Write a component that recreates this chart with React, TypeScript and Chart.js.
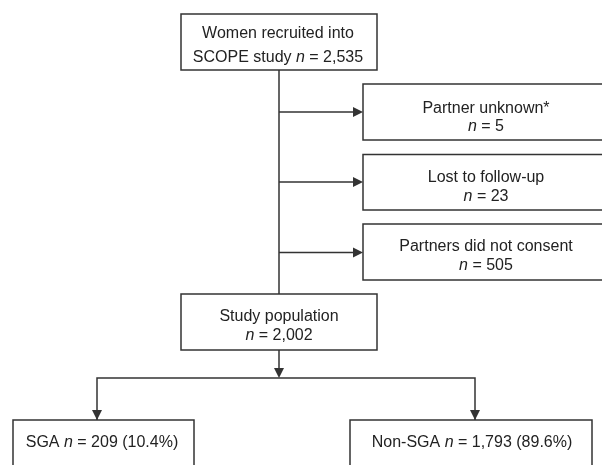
import React, { useEffect, useRef } from "react";
import { Chart, registerables } from "chart.js";

Chart.register(...registerables);

// ---- Data ----
const boxFirstLines = [
  "Women recruited into",
  "Partner unknown*",
  "Lost to follow-up",
  "Partners did not consent",
  "Study population",
  "",
  "",
];
const boxPrefixes = ["SCOPE study ", "", "", "", "", "SGA ", "Non-SGA "];
const boxCounts = [2535, 5, 23, 505, 2002, 209, 1793];
const boxPercents: (number | null)[] = [null, null, null, null, null, 10.4, 89.6];

// ---- Layout (data-space coordinates, x: 0..602, y: 0..465 top-down) ----
const boxLayout = [
  { x0: 181, x1: 377, y0: 14, y1: 70, cx: 278, b1: 38, b2: 61.5 },
  { x0: 363, x1: 612, y0: 84, y1: 140, cx: 486, b1: 112.5, b2: 131 },
  { x0: 363, x1: 612, y0: 154.5, y1: 210, cx: 486, b1: 182, b2: 200.5 },
  { x0: 363, x1: 612, y0: 224, y1: 280, cx: 486, b1: 251, b2: 269.5 },
  { x0: 181, x1: 377, y0: 294, y1: 350, cx: 279, b1: 321, b2: 339.5 },
  { x0: 13, x1: 194, y0: 420, y1: 490, cx: 102, b1: 0, b2: 447 },
  { x0: 350, x1: 592, y0: 420, y1: 490, cx: 472, b1: 0, b2: 447 },
];

const connectorPaths = [
  [{ x: 279, y: 70 }, { x: 279, y: 294 }],
  [{ x: 279, y: 112 }, { x: 356, y: 112 }],
  [{ x: 279, y: 182 }, { x: 356, y: 182 }],
  [{ x: 279, y: 252.5 }, { x: 356, y: 252.5 }],
  [{ x: 279, y: 350 }, { x: 279, y: 372 }],
  [{ x: 97, y: 420 }, { x: 97, y: 378 }, { x: 475, y: 378 }, { x: 475, y: 420 }],
];

const arrowHeads = [
  { x: 363, y: 112, dir: "right" },
  { x: 363, y: 182, dir: "right" },
  { x: 363, y: 252.5, dir: "right" },
  { x: 279, y: 378, dir: "down" },
  { x: 97, y: 420, dir: "down" },
  { x: 475, y: 420, dir: "down" },
];

const LINE_COLOR = "#333333";
const TEXT_COLOR = "#222222";
const FONT_FAMILY = "'Liberation Sans', Arial, sans-serif";
const FONT_SIZE = 16;

function fmt(n: number) {
  return n.toLocaleString("en-US");
}

type Seg = { t: string; it?: boolean };

function secondLine(i: number): Seg[] {
  const segs: Seg[] = [];
  if (boxPrefixes[i]) segs.push({ t: boxPrefixes[i] });
  segs.push({ t: "n", it: true });
  let rest = " = " + fmt(boxCounts[i]);
  const p = boxPercents[i];
  if (p !== null) rest += " (" + p.toFixed(1) + "%)";
  segs.push({ t: rest });
  return segs;
}

function drawSegs(ctx: CanvasRenderingContext2D, segs: Seg[], cx: number, y: number) {
  const fontN = `${FONT_SIZE}px ${FONT_FAMILY}`;
  const fontI = `italic ${FONT_SIZE}px ${FONT_FAMILY}`;
  let total = 0;
  const widths = segs.map((s) => {
    ctx.font = s.it ? fontI : fontN;
    const w = ctx.measureText(s.t).width;
    total += w;
    return w;
  });
  let x = cx - total / 2;
  ctx.textAlign = "left";
  ctx.textBaseline = "alphabetic";
  ctx.fillStyle = TEXT_COLOR;
  segs.forEach((s, k) => {
    ctx.font = s.it ? fontI : fontN;
    ctx.fillText(s.t, x, y);
    x += widths[k];
  });
}

const flowPlugin = {
  id: "flowBoxes",
  afterDatasetsDraw(chart: any) {
    const ctx: CanvasRenderingContext2D = chart.ctx;
    const xs = chart.scales.x;
    const ys = chart.scales.y;
    const px = (v: number) => xs.getPixelForValue(v);
    const py = (v: number) => ys.getPixelForValue(v);
    ctx.save();
    // boxes
    boxLayout.forEach((b, i) => {
      const x0 = px(b.x0), x1 = px(b.x1), y0 = py(b.y0), y1 = py(b.y1);
      ctx.fillStyle = "#ffffff";
      ctx.fillRect(x0, y0, x1 - x0, y1 - y0);
      ctx.strokeStyle = LINE_COLOR;
      ctx.lineWidth = 1.5;
      ctx.strokeRect(x0, y0, x1 - x0, y1 - y0);
      if (boxFirstLines[i]) drawSegs(ctx, [{ t: boxFirstLines[i] }], px(b.cx), py(b.b1));
      drawSegs(ctx, secondLine(i), px(b.cx), py(b.b2));
    });
    // arrowheads
    ctx.fillStyle = LINE_COLOR;
    arrowHeads.forEach((a) => {
      const x = px(a.x), y = py(a.y);
      ctx.beginPath();
      if (a.dir === "right") {
        ctx.moveTo(x, y);
        ctx.lineTo(x - 10, y - 5);
        ctx.lineTo(x - 10, y + 5);
      } else {
        ctx.moveTo(x, y);
        ctx.lineTo(x - 5, y - 10);
        ctx.lineTo(x + 5, y - 10);
      }
      ctx.closePath();
      ctx.fill();
    });
    ctx.restore();
  },
};

export default function App() {
  const ref = useRef<HTMLCanvasElement>(null);
  useEffect(() => {
    document.body.style.margin = "0";
    if (!ref.current) return;
    const chart = new Chart(ref.current, {
      type: "scatter",
      data: {
        datasets: connectorPaths.map((path) => ({
          data: path,
          showLine: true,
          borderColor: LINE_COLOR,
          borderWidth: 1.5,
          pointRadius: 0,
          pointHoverRadius: 0,
          fill: false,
          tension: 0,
        })),
      },
      options: {
        responsive: false,
        animation: false,
        events: [],
        layout: { padding: 0 },
        plugins: { legend: { display: false }, tooltip: { enabled: false } },
        scales: {
          x: { type: "linear", min: 0, max: 602, display: false },
          y: { type: "linear", min: 0, max: 465, reverse: true, display: false },
        },
      },
      plugins: [flowPlugin],
    } as any);
    return () => chart.destroy();
  }, []);
  return (
    <div style={{ width: 602, height: 465, background: "#fff" }}>
      <canvas ref={ref} width={602} height={465} style={{ display: "block" }} />
    </div>
  );
}
